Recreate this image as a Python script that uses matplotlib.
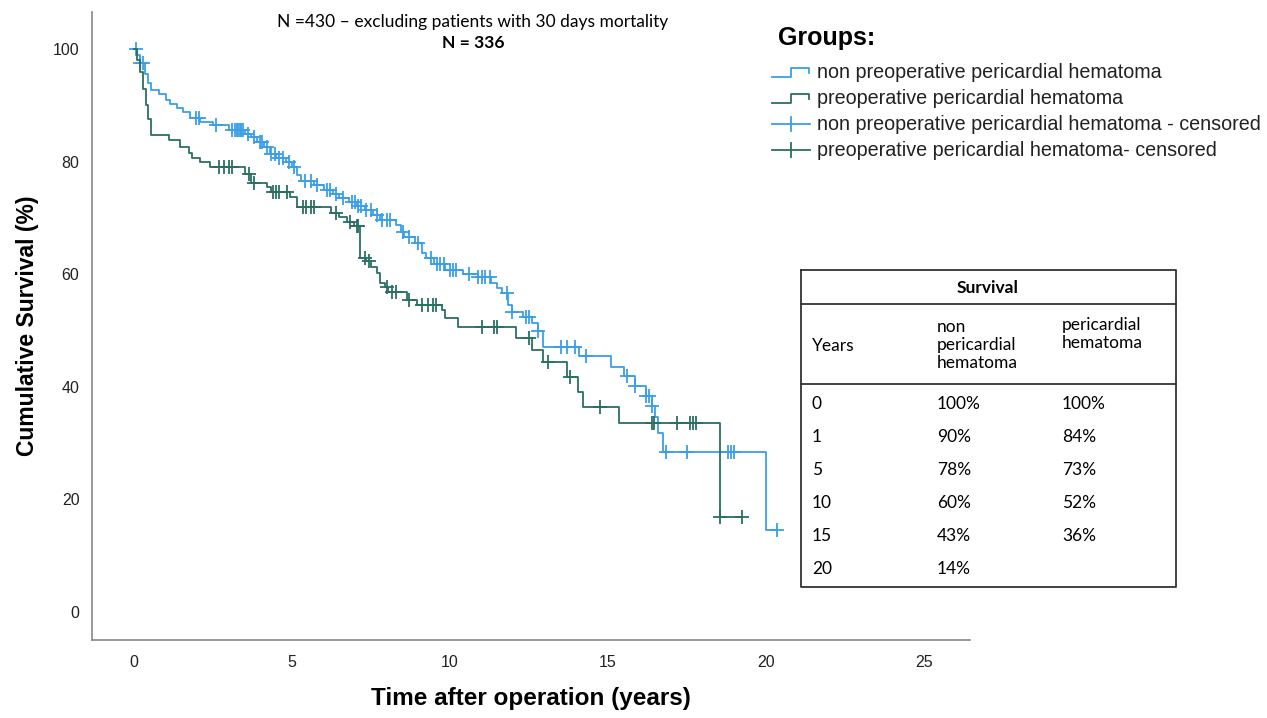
import numpy as np
import matplotlib
matplotlib.use("Agg")
import matplotlib.pyplot as plt

# Kaplan-Meier steps: (time in years, survival % after the step)
non_times = [0, 0.1, 0.2, 0.35, 0.45, 0.55, 0.8, 1.0, 1.15, 1.35, 1.55, 1.77, 2.1, 2.5, 3.0, 3.5,
             3.7, 3.9, 4.1, 4.3, 4.5, 4.8, 5.0, 5.15, 5.3, 5.7, 6.0, 6.3, 6.5, 6.8, 7.05, 7.3,
             7.55, 7.8, 8.3, 8.45, 8.55, 8.9, 9.1, 9.25, 9.5, 9.85, 10.4, 10.9, 11.3, 11.5,
             11.65, 11.85, 11.95, 12.3, 12.6, 12.8, 12.95, 14.1, 15.1, 15.5, 15.85, 16.2,
             16.4, 16.5, 16.6, 16.75, 20.0, 20.35]
non_surv = [100, 99, 97.5, 95.5, 94, 92.8, 92, 91, 90.3, 89.5, 88.8, 87.7, 87.0, 86.5, 85.6, 85.0,
            84.3, 83.5, 82.6, 81.3, 80.6, 80.0, 79.0, 77.6, 76.5, 75.8, 75.0, 74.2, 73.5, 72.8, 72.2, 71.5,
            70.6, 69.6, 68.8, 67.5, 66.6, 65.5, 63.8, 62.8, 61.8, 60.8, 60.0, 59.5, 58.4, 57.5,
            56.6, 54.5, 53.2, 52.4, 51.3, 50.0, 47.0, 45.5, 43.6, 42.0, 40.2, 38.3,
            36.5, 34.6, 31.8, 28.4, 14.6, 14.6]
non_censored = [0.05, 0.2, 0.3, 1.95, 2.05, 2.6, 3.1, 3.2, 3.25, 3.3, 3.35, 3.4, 3.45, 3.6, 3.8,
                4.0, 4.05, 4.2, 4.35, 4.45, 4.6, 4.7, 4.9, 5.05, 5.4, 5.6, 5.8, 6.1, 6.2, 6.4,
                6.6, 6.9, 7.0, 7.1, 7.2, 7.35, 7.5, 7.7, 7.85, 8.0, 8.1, 8.5, 8.7, 9.0, 9.4,
                9.6, 9.7, 9.8, 10.0, 10.1, 10.2, 10.6, 10.9, 11.0, 11.1, 11.27, 11.8, 11.96,
                12.4, 12.5, 12.8, 13.5, 13.7, 13.95, 14.3, 15.6, 15.85, 16.2, 16.3, 16.4,
                16.85, 17.5, 18.8, 18.9, 19.0, 20.35]

peri_times = [0, 0.08, 0.2, 0.3, 0.38, 0.45, 0.55, 1.1, 1.45, 1.75, 1.85, 2.1, 2.4, 3.5, 3.7, 4.2,
              4.35, 4.95, 5.15, 6.25, 6.5, 6.75, 6.95, 7.15, 7.35, 7.5, 7.7, 7.8, 7.95, 8.05,
              8.65, 8.95, 9.75, 9.85, 10.25, 12.1, 12.6, 12.95, 13.7, 14.05, 14.2, 15.35,
              18.55, 19.25]
peri_surv = [100, 98, 96, 93, 90, 87.5, 84.7, 83.8, 82.6, 81.5, 80.6, 79.9, 79.0, 77.8, 76.3, 75.5,
             74.6, 73.7, 72.0, 70.9, 70.2, 69.3, 68.5, 62.9, 62.3, 61.2, 60.2, 58.5, 57.7, 56.8,
             55.5, 54.5, 53.6, 52.3, 50.6, 48.7, 46.5, 44.4, 41.7, 39.0, 36.4, 33.6,
             16.9, 16.9]
peri_censored = [2.7, 2.85, 3.0, 3.1, 3.65, 3.8, 4.4, 4.5, 4.6, 4.85, 5.35, 5.45, 5.6, 5.7, 6.4,
                 6.85, 7.05, 7.1, 7.3, 7.45, 8.0, 8.15, 8.3, 8.7, 9.1, 9.3, 9.45, 9.55, 11.0,
                 11.4, 11.5, 12.5, 13.1, 13.8, 14.75, 16.4, 16.45, 17.2, 17.6, 17.7, 17.8,
                 18.55, 19.25]

# survival table
table_years = ["0", "1", "5", "10", "15", "20"]
table_non = ["100%", "90%", "78%", "60%", "43%", "14%"]
table_peri = ["100%", "84%", "73%", "52%", "36%", ""]

blue = "#3a9fe8"
green = "#2b6e62"
arial = ["Liberation Sans", "DejaVu Sans"]
calib = ["Lato", "DejaVu Sans"]


def surv_at(times, surv, t):
    i = np.searchsorted(times, t, side="right") - 1
    return np.asarray(surv)[i]


fig = plt.figure(figsize=(12.67, 7.18), dpi=100)
W, H = 1267, 718
ax = fig.add_axes([92 / W, 1 - 640 / H, (970 - 92) / W, (640 - 12) / H])

for times, surv, cens, col in [(non_times, non_surv, non_censored, blue),
                               (peri_times, peri_surv, peri_censored, green)]:
    ax.plot(times, surv, drawstyle="steps-post", color=col, lw=1.3)
    ax.plot(cens, surv_at(times, surv, cens), ls="none", marker="+", ms=10, mew=1.3, color=col)

ax.set_xlim(-1.33, 26.46)
ax.set_ylim(-5, 106.6)
ax.set_xticks([0, 5, 10, 15, 20, 25])
ax.set_yticks([0, 20, 40, 60, 80, 100])
ax.tick_params(length=0, labelsize=11.5, colors="#222222")
ax.tick_params(axis="x", pad=11)
ax.tick_params(axis="y", pad=9)
for lab in ax.get_xticklabels() + ax.get_yticklabels():
    lab.set_family(arial)
for s in ["top", "right"]:
    ax.spines[s].set_visible(False)
for s in ["left", "bottom"]:
    ax.spines[s].set_color("#888888")
    ax.spines[s].set_linewidth(1.2)
ax.set_xlabel("Time after operation (years)", family=arial, fontsize=17.5, weight="bold", labelpad=12)
ax.set_ylabel("Cumulative Survival (%)", family=arial, fontsize=16.5, weight="bold", labelpad=10)

# overlay in pixel coordinates for title, legend and table
ov = fig.add_axes([0, 0, 1, 1])
ov.set_xlim(0, W)
ov.set_ylim(H, 0)
ov.axis("off")
ov.patch.set_alpha(0)

ov.text(473, 22, "N =430 \u2013 excluding patients with 30 days mortality", family=calib,
        fontsize=12.5, ha="center", va="center")
ov.text(473, 43, "N = 336", family=calib, fontsize=12.5, weight="bold", ha="center", va="center")

ov.text(778, 38, "Groups:", family=arial, fontsize=18, weight="bold", va="center")
legend_labels = ["non preoperative pericardial hematoma", "preoperative pericardial hematoma",
                 "non preoperative pericardial hematoma - censored",
                 "preoperative pericardial hematoma- censored"]
legend_cols = [blue, green, blue, green]
for i, (lab, col) in enumerate(zip(legend_labels, legend_cols)):
    y = 73 + i * 25.7
    if i < 2:
        ov.plot([772, 791, 791, 809, 809], [y + 4, y + 4, y - 5, y - 5, y], color=col, lw=1.3)
    else:
        ov.plot([772, 810], [y, y], color=col, lw=1.3)
        ov.plot([791, 791], [y - 7, y + 7], color=col, lw=1.3)
    ov.text(817, y, lab, family=arial, fontsize=14.2, va="center", color="#222222")

# table box
x0, x1, y0, y1 = 801, 1176, 270, 587
ov.plot([x0, x1, x1, x0, x0], [y0, y0, y1, y1, y0], color="#333333", lw=1.3)
ov.plot([x0, x1], [304, 304], color="#333333", lw=1.3)
ov.plot([x0, x1], [384, 384], color="#333333", lw=1.3)
fs = 12.5
ov.text(988, 288, "Survival", family=calib, fontsize=fs, weight="bold", ha="center", va="center")
ov.text(812, 346, "Years", family=calib, fontsize=fs, va="center")
ov.text(937, 345, "non\npericardial\nhematoma", family=calib, fontsize=fs, va="center",
        linespacing=1.15)
ov.text(1062, 334, "pericardial\nhematoma", family=calib, fontsize=fs, va="center",
        linespacing=1.15)
for i, (yr, a, b) in enumerate(zip(table_years, table_non, table_peri)):
    y = 404 + i * 33
    ov.text(812, y, yr, family=calib, fontsize=fs, va="center")
    ov.text(937, y, a, family=calib, fontsize=fs, va="center")
    ov.text(1062, y, b, family=calib, fontsize=fs, va="center")

fig.savefig("out.png", dpi=100)
